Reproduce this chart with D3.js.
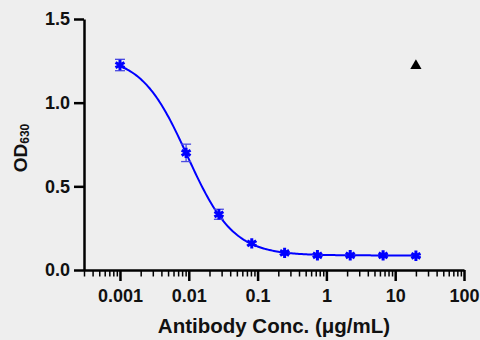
<!DOCTYPE html>
<head>
<meta charset="utf-8">
<script src="https://d3js.org/d3.v7.min.js"></script>
</head>
<style>
body { margin: 0; background: #eeeeee; }
text { font-family: "Liberation Sans", Arial, sans-serif; font-weight: bold; fill: #111; }
</style>
<body>
<script>
// concentrations (ug/mL) and OD630 readings
var conc = [0.001, 0.00914, 0.0274, 0.0823, 0.247, 0.741, 2.22, 6.67, 20];
var od = [1.225, 0.700, 0.333, 0.159, 0.102, 0.088, 0.088, 0.087, 0.085];
var sem = [0.034, 0.052, 0.030, 0.010, 0.008, 0.006, 0.006, 0.006, 0.006];
// control point (triangle)
var ctrlConc = [20];
var ctrlOd = [1.22];
// 4PL fit parameters
var fitTop = 1.28, fitBottom = 0.087, fitEC50 = 0.0095, fitHill = 1.3;
var xTicks = [0.001, 0.01, 0.1, 1, 10, 100];
var xTickLabels = ["0.001", "0.01", "0.1", "1", "10", "100"];
var yTicks = [0, 0.5, 1.0, 1.5];

var margin = {top: 19, right: 16, bottom: 70, left: 84},
    width = 480 - margin.left - margin.right,
    height = 340 - margin.top - margin.bottom;

var x = d3.scaleLog().domain([0.0003, 100]).range([0, width]);
var y = d3.scaleLinear().domain([0, 1.5]).range([height, 0]);

var svg = d3.select("body").append("svg")
    .attr("width", 480)
    .attr("height", 340)
  .append("g")
    .attr("transform", "translate(" + margin.left + "," + margin.top + ")");

// minor ticks on x
var minor = [];
[0.0001, 0.001, 0.01, 0.1, 1, 10].forEach(function(d) {
  for (var k = 2; k <= 9; k++) {
    var v = d * k;
    if (v >= 0.0003 && v < 100) minor.push(v);
  }
});
svg.append("g")
    .attr("transform", "translate(0," + height + ")")
    .call(d3.axisBottom(x).tickValues(minor).tickSize(6.5).tickFormat(""))
    .call(function(g) { g.select(".domain").remove(); g.selectAll("line").attr("stroke-width", 1.5); });

var xAxis = svg.append("g")
    .attr("transform", "translate(0," + height + ")")
    .call(d3.axisBottom(x).tickValues(xTicks).tickSize(11).tickSizeOuter(0)
      .tickFormat(function(d, i) { return xTickLabels[i]; }));
xAxis.select(".domain").attr("stroke-width", 2.5);
xAxis.selectAll("line").attr("stroke-width", 2.5);
xAxis.selectAll("text").attr("font-size", 18).attr("y", 32).attr("dy", 0).attr("fill", "#111");

var yAxis = svg.append("g")
    .call(d3.axisLeft(y).tickValues(yTicks).tickSize(10).tickSizeOuter(0)
      .tickFormat(d3.format(".1f")));
yAxis.select(".domain").attr("stroke-width", 2.5);
yAxis.selectAll("line").attr("stroke-width", 2.5);
yAxis.selectAll("text").attr("font-size", 18).attr("x", -14).attr("fill", "#111");
svg.selectAll(".domain").attr("stroke", "#000");

// fitted curve
var fit = function(c) { return fitBottom + (fitTop - fitBottom) / (1 + Math.pow(c / fitEC50, fitHill)); };
var curvePts = d3.range(0, 201).map(function(i) {
  var c = Math.pow(10, Math.log10(conc[0]) + i / 200 * (Math.log10(conc[conc.length - 1]) - Math.log10(conc[0])));
  return [c, fit(c)];
});
svg.append("path")
    .datum(curvePts)
    .attr("fill", "none")
    .attr("stroke", "#0000ff")
    .attr("stroke-width", 2)
    .attr("d", d3.line().x(function(d) { return x(d[0]); }).y(function(d) { return y(d[1]); }));

// error bars
var eb = svg.append("g").attr("stroke", "#4a4ae0").attr("stroke-width", 1.3);
conc.forEach(function(c, i) {
  var cx = x(c);
  eb.append("line").attr("x1", cx).attr("x2", cx).attr("y1", y(od[i] + sem[i])).attr("y2", y(od[i] - sem[i]));
  eb.append("line").attr("x1", cx - 5).attr("x2", cx + 5).attr("y1", y(od[i] + sem[i])).attr("y2", y(od[i] + sem[i]));
  eb.append("line").attr("x1", cx - 5).attr("x2", cx + 5).attr("y1", y(od[i] - sem[i])).attr("y2", y(od[i] - sem[i]));
});

// star markers
var star = d3.symbol().type(d3.symbolAsterisk).size(75);
svg.selectAll(".pt").data(conc).enter().append("path")
    .attr("d", star)
    .attr("transform", function(d, i) { return "translate(" + x(d) + "," + y(od[i]) + ")"; })
    .attr("fill", "none").attr("stroke", "#0000ff").attr("stroke-width", 3);

// control triangle
svg.selectAll(".ctrl").data(ctrlConc).enter().append("path")
    .attr("d", d3.symbol().type(d3.symbolTriangle).size(55))
    .attr("transform", function(d, i) { return "translate(" + x(d) + "," + y(ctrlOd[i]) + ")"; })
    .attr("fill", "#000");

// axis titles
svg.append("text")
    .attr("x", width / 2).attr("y", height + 63)
    .attr("text-anchor", "middle").attr("font-size", 20.5)
    .text("Antibody Conc. (μg/mL)");

var yl = svg.append("text")
    .attr("transform", "translate(" + (-57) + "," + (129) + ") rotate(-90)")
    .attr("text-anchor", "middle").attr("font-size", 19);
yl.append("tspan").text("OD");
yl.append("tspan").attr("font-size", 12).attr("dy", 2).text("630");
</script>
</body>
